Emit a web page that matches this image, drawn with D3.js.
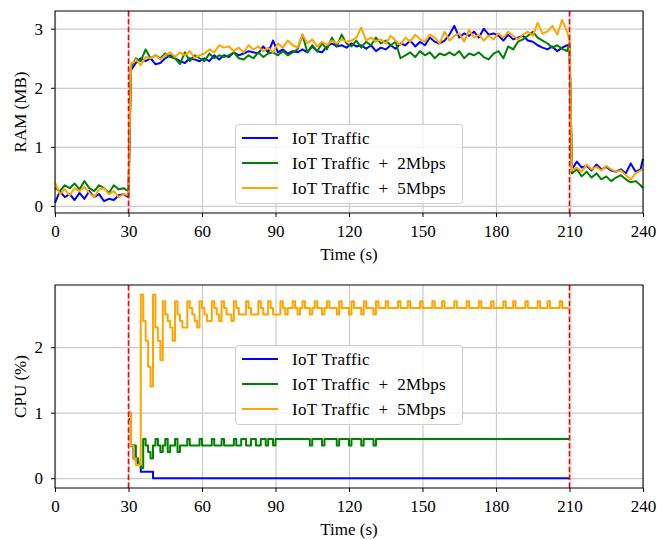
<!DOCTYPE html>
<html>
<head>
<meta charset="utf-8">
<script src="https://cdn.jsdelivr.net/npm/d3@7"></script>
<style>
  body { margin: 0; background: #fff; }
  svg text { font-family: "Liberation Serif", "DejaVu Serif", serif; fill: #000; }
</style>
</head>
<body>
<div id="chart"></div>
<script>
// ---- data ----
const xTicks = [0, 30, 60, 90, 120, 150, 180, 210, 240];
const ramTicks = [0, 1, 2, 3];
const cpuTicks = [0, 1, 2];
const markerTimes = [30, 210];
const seriesNames = ["IoT Traffic", "IoT Traffic\u2002+\u20022Mbps", "IoT Traffic\u2002+\u20025Mbps"];
const seriesColors = ["#0000ff", "#008000", "#ffa500"];

// RAM sample times (s)
const ramTime = [].concat(d3.range(0, 31, 2), d3.range(31, 210, 2), [210], d3.range(211, 240, 2), [240]);

// RAM (MB)
const ramBlue = [
  0.05, 0.25, 0.15, 0.2, 0.1, 0.22, 0.12, 0.25, 0.15, 0.2, 0.08, 0.12, 0.1, 0.18, 0.2, 0.15,
  2.3, 2.42, 2.5, 2.45, 2.5,   2.4, 2.42, 2.5, 2.55, 2.5,
  2.45, 2.42, 2.5, 2.48, 2.45, 2.5, 2.45, 2.55, 2.48, 2.55,
  2.52, 2.6, 2.55, 2.58, 2.62, 2.6, 2.58, 2.7, 2.6, 2.8,
  2.6, 2.65, 2.58, 2.62, 2.6,  2.65, 2.6, 2.7, 2.62, 2.6,
  2.7, 2.75, 2.7, 2.72, 2.68,  2.75, 2.7, 2.72, 2.66, 2.72,
  2.62, 2.68, 2.65, 2.72, 2.66, 2.75, 2.72, 2.8, 2.7, 2.78,
  2.72, 2.85, 2.78, 2.75, 2.8, 2.9, 3.05, 2.85, 2.92, 2.88,
  2.95, 2.85, 3.0, 2.9, 2.92,  2.88, 2.8, 2.9, 2.82, 2.85,
  2.88, 2.8, 2.78, 2.72, 2.68, 2.65, 2.7, 2.62, 2.68, 2.72,
  2.7,
  0.62, 0.75, 0.65, 0.68, 0.6, 0.7, 0.62, 0.66, 0.6, 0.58, 0.62, 0.55, 0.72, 0.58, 0.62, 0.8
];
const ramGreen = [
  0.3, 0.25, 0.35, 0.3, 0.38, 0.28, 0.42, 0.3, 0.25, 0.35, 0.3, 0.22, 0.35, 0.28, 0.3, 0.25,
  2.35, 2.5, 2.45, 2.65, 2.5,  2.55, 2.5, 2.58, 2.52, 2.5,
  2.4, 2.6, 2.45, 2.55, 2.5,   2.45, 2.58, 2.5, 2.55, 2.52,
  2.55, 2.6, 2.5, 2.48, 2.55,  2.5, 2.6, 2.52, 2.58, 2.6,
  2.55, 2.62, 2.55, 2.6, 2.65, 2.9, 2.6, 2.72, 2.62, 2.75,
  2.65, 2.85, 2.7, 2.9, 2.75,  2.7, 2.8, 2.68, 2.78, 2.72,
  2.85, 2.75, 2.8, 2.72, 2.78, 2.5, 2.55, 2.6, 2.52, 2.62,
  2.55, 2.6, 2.5, 2.58, 2.55,  2.6, 2.55, 2.62, 2.5, 2.58,
  2.55, 2.6, 2.52, 2.48, 2.58, 2.62, 2.5, 2.7, 2.65, 2.78,
  2.82, 2.88, 2.95, 2.85, 2.8, 2.75, 2.68, 2.72, 2.66, 2.62,
  2.75,
  0.55, 0.62, 0.5, 0.58, 0.48, 0.55, 0.45, 0.5, 0.42, 0.48, 0.52, 0.45, 0.4, 0.42, 0.35, 0.3
];
const ramOrange = [
  0.4, 0.2, 0.28, 0.18, 0.3, 0.25, 0.32, 0.22, 0.15, 0.28, 0.3, 0.2, 0.25, 0.15, 0.2, 0.18,
  2.4, 2.48, 2.38, 2.52, 2.5,  2.55, 2.48, 2.55, 2.6, 2.52,
  2.6, 2.55, 2.62, 2.5, 2.55,  2.58, 2.65, 2.6, 2.72, 2.68,
  2.7, 2.62, 2.68, 2.6, 2.72,  2.65, 2.7, 2.62, 2.68, 2.6,
  2.75, 2.68, 2.8, 2.72, 2.68, 2.9, 2.75, 2.82, 2.7, 2.78,
  2.72, 2.8, 2.75, 2.82, 2.78, 2.8, 2.85, 3.02, 2.8, 2.85,
  2.78, 2.82, 2.75, 2.88, 2.8, 2.72, 2.85, 2.78, 2.9, 2.82,
  2.78, 2.9, 2.85, 2.75, 2.95, 2.8, 2.88, 2.92, 2.78, 2.98,
  2.85, 2.9, 2.8, 2.88, 2.82,  2.92, 2.85, 2.95, 2.88, 2.82,
  2.9, 2.95, 2.88, 3.1, 2.92,  2.95, 3.05, 2.9, 3.15, 2.95,
  2.8,
  0.6, 0.65, 0.58, 0.7, 0.62, 0.66, 0.6, 0.68, 0.62, 0.58, 0.6, 0.52, 0.45, 0.55, 0.6, 0.62
];

// CPU sample times (s), one per second from 30 to 210
const cpuTime = d3.range(30, 211);

// CPU (%)
const cpuBlue = [
  1.0, 0.5, 0.3, 0.25, 0.2, 0.1, 0.1, 0.1, 0.1, 0.1,
  0, 0, 0, 0, 0, 0, 0, 0, 0, 0,
  0, 0, 0, 0, 0, 0, 0, 0, 0, 0,
  0, 0, 0, 0, 0, 0, 0, 0, 0, 0,
  0, 0, 0, 0, 0, 0, 0, 0, 0, 0,
  0, 0, 0, 0, 0, 0, 0, 0, 0, 0,
  0, 0, 0, 0, 0, 0, 0, 0, 0, 0,
  0, 0, 0, 0, 0, 0, 0, 0, 0, 0,
  0, 0, 0, 0, 0, 0, 0, 0, 0, 0,
  0, 0, 0, 0, 0, 0, 0, 0, 0, 0,
  0, 0, 0, 0, 0, 0, 0, 0, 0, 0,
  0, 0, 0, 0, 0, 0, 0, 0, 0, 0,
  0, 0, 0, 0, 0, 0, 0, 0, 0, 0,
  0, 0, 0, 0, 0, 0, 0, 0, 0, 0,
  0, 0, 0, 0, 0, 0, 0, 0, 0, 0,
  0, 0, 0, 0, 0, 0, 0, 0, 0, 0,
  0, 0, 0, 0, 0, 0, 0, 0, 0, 0,
  0, 0, 0, 0, 0, 0, 0, 0, 0, 0,
  0
];
const cpuGreen = [
  0.9, 0.5, 0.5, 0.3, 0.2, 0.15, 0.6, 0.5, 0.4, 0.3,
  0.5, 0.6, 0.5, 0.4, 0.5, 0.6, 0.4, 0.5, 0.5, 0.6,
  0.4, 0.5, 0.5, 0.5, 0.6, 0.5, 0.5, 0.5, 0.5, 0.6,
  0.5, 0.5, 0.5, 0.5, 0.6, 0.5, 0.5, 0.5, 0.6, 0.5,
  0.5, 0.5, 0.5, 0.6, 0.5, 0.5, 0.6, 0.6, 0.5, 0.5,
  0.6, 0.6, 0.5, 0.5, 0.6, 0.6, 0.5, 0.6, 0.6, 0.5,
  0.6, 0.6, 0.6, 0.6, 0.6, 0.6, 0.6, 0.6, 0.6, 0.6,
  0.6, 0.6, 0.6, 0.6, 0.5, 0.6, 0.6, 0.6, 0.6, 0.5,
  0.6, 0.6, 0.6, 0.6, 0.6, 0.5, 0.6, 0.6, 0.6, 0.6,
  0.5, 0.6, 0.6, 0.6, 0.6, 0.5, 0.6, 0.6, 0.6, 0.6,
  0.5, 0.6, 0.6, 0.6, 0.6, 0.6, 0.6, 0.6, 0.6, 0.6,
  0.6, 0.6, 0.6, 0.6, 0.6, 0.6, 0.6, 0.6, 0.6, 0.6,
  0.6, 0.6, 0.6, 0.6, 0.6, 0.6, 0.6, 0.6, 0.6, 0.6,
  0.6, 0.6, 0.6, 0.6, 0.6, 0.6, 0.6, 0.6, 0.6, 0.6,
  0.6, 0.6, 0.6, 0.6, 0.6, 0.6, 0.6, 0.6, 0.6, 0.6,
  0.6, 0.6, 0.6, 0.6, 0.6, 0.6, 0.6, 0.6, 0.6, 0.6,
  0.6, 0.6, 0.6, 0.6, 0.6, 0.6, 0.6, 0.6, 0.6, 0.6,
  0.6, 0.6, 0.6, 0.6, 0.6, 0.6, 0.6, 0.6, 0.6, 0.6,
  0.6
];
const cpuOrange = [
  1.0, 0.5, 0.3, 0.2, 0.2, 2.8, 2.4, 2.1, 1.7, 1.4,
  2.8, 2.3, 2.1, 1.8, 2.7, 2.5, 2.4, 2.3, 2.1, 2.7,
  2.5, 2.4, 2.3, 2.3, 2.7, 2.6, 2.5, 2.4, 2.3, 2.7,
  2.6, 2.5, 2.4, 2.4, 2.7, 2.6, 2.5, 2.4, 2.7, 2.6,
  2.5, 2.5, 2.4, 2.7, 2.6, 2.5, 2.5, 2.5, 2.7, 2.6,
  2.5, 2.5, 2.5, 2.7, 2.6, 2.5, 2.5, 2.7, 2.6, 2.5,
  2.5, 2.5, 2.7, 2.6, 2.5, 2.6, 2.6, 2.7, 2.6, 2.5,
  2.6, 2.7, 2.6, 2.6, 2.5, 2.6, 2.7, 2.6, 2.6, 2.5,
  2.6, 2.7, 2.6, 2.6, 2.6, 2.5, 2.7, 2.6, 2.6, 2.6,
  2.5, 2.7, 2.6, 2.6, 2.6, 2.5, 2.7, 2.6, 2.6, 2.6,
  2.5, 2.7, 2.6, 2.6, 2.6, 2.7, 2.6, 2.6, 2.6, 2.6,
  2.7, 2.6, 2.6, 2.6, 2.7, 2.6, 2.6, 2.6, 2.6, 2.7,
  2.6, 2.6, 2.6, 2.6, 2.7, 2.6, 2.6, 2.6, 2.7, 2.6,
  2.6, 2.6, 2.6, 2.7, 2.6, 2.6, 2.6, 2.6, 2.7, 2.6,
  2.6, 2.6, 2.6, 2.7, 2.6, 2.6, 2.6, 2.6, 2.7, 2.6,
  2.6, 2.6, 2.6, 2.7, 2.6, 2.6, 2.6, 2.7, 2.6, 2.6,
  2.6, 2.6, 2.7, 2.6, 2.6, 2.6, 2.6, 2.7, 2.6, 2.6,
  2.6, 2.7, 2.6, 2.6, 2.6, 2.6, 2.7, 2.6, 2.6, 2.6,
  2.6
];

// ---- drawing ----
function drawPanel(svg, p) {
  const left = 55, right = 643;

  const x = d3.scaleLinear().domain([0, 240]).range([left, right]);
  const y = d3.scaleLinear().domain(p.yDomain).range([p.bottom, p.top]);

  const g = svg.append("g");

  // grid
  g.append("g")
      .attr("transform", `translate(0,${p.bottom})`)
      .call(d3.axisBottom(x).tickValues(xTicks).tickSize(-(p.bottom - p.top)).tickFormat(""))
      .call(a => a.select(".domain").remove())
      .call(a => a.selectAll("line").attr("stroke", "#cbcbcb").attr("stroke-width", 1.2));
  g.append("g")
      .attr("transform", `translate(${left},0)`)
      .call(d3.axisLeft(y).tickValues(p.yTicks).tickSize(-(right - left)).tickFormat(""))
      .call(a => a.select(".domain").remove())
      .call(a => a.selectAll("line").attr("stroke", "#cbcbcb").attr("stroke-width", 1.2));

  // data lines
  const line = d3.line()
      .x((d, i) => x(p.time[i]))
      .y(d => y(d))
      .curve(p.curve);

  p.series.forEach((s, i) => {
    g.append("path")
        .datum(s)
        .attr("fill", "none")
        .attr("stroke", seriesColors[i])
        .attr("stroke-width", 2)
        .attr("stroke-linejoin", "round")
        .attr("d", line);
  });

  // event markers
  g.selectAll(".marker")
    .data(markerTimes)
    .enter().append("line")
      .attr("x1", d => x(d)).attr("x2", d => x(d))
      .attr("y1", p.top).attr("y2", p.bottom)
      .attr("stroke", "#ff0000")
      .attr("stroke-width", 1.6)
      .attr("stroke-dasharray", "5.5,2.4");

  // frame
  g.append("rect")
      .attr("x", left).attr("y", p.top)
      .attr("width", right - left).attr("height", p.bottom - p.top)
      .attr("fill", "none").attr("stroke", "#000").attr("stroke-width", 1);

  // axes
  const xAxis = g.append("g")
      .attr("transform", `translate(0,${p.bottom})`)
      .call(d3.axisBottom(x).tickValues(xTicks).tickSize(4).tickPadding(8).tickSizeOuter(0));
  const yAxis = g.append("g")
      .attr("transform", `translate(${left},0)`)
      .call(d3.axisLeft(y).tickValues(p.yTicks).tickFormat(d3.format("d")).tickSize(4).tickPadding(8).tickSizeOuter(0));
  [xAxis, yAxis].forEach(a => {
    a.select(".domain").remove();
    a.selectAll("text").attr("font-size", 17).attr("font-family", null);
  });

  // axis labels
  g.append("text")
      .attr("x", (left + right) / 2).attr("y", p.bottom + 47)
      .attr("text-anchor", "middle").attr("font-size", 17)
      .text("Time (s)");
  g.append("text")
      .attr("transform", `translate(26,${(p.top + p.bottom) / 2}) rotate(-90)`)
      .attr("text-anchor", "middle").attr("font-size", 17)
      .text(p.yLabel);

  // legend
  const lg = g.append("g").attr("transform", `translate(235,${p.legendTop})`);
  lg.append("rect")
      .attr("x", 0.5).attr("y", 0.5).attr("width", 227).attr("height", 79).attr("rx", 3)
      .attr("fill", "#fff").attr("fill-opacity", 0.8)
      .attr("stroke", "#cccccc").attr("stroke-width", 1);
  seriesNames.forEach((name, i) => {
    const ry = 14 + i * 25;
    lg.append("line")
        .attr("x1", 7).attr("x2", 43).attr("y1", ry).attr("y2", ry)
        .attr("stroke", seriesColors[i]).attr("stroke-width", 2);
    lg.append("text")
        .attr("x", 57).attr("y", ry + 6)
        .attr("font-size", 17)
        .attr("letter-spacing", 0.3)
        .text(name);
  });
}

function drawChart() {
  const svg = d3.select("#chart").append("svg")
      .attr("width", 657)
      .attr("height", 540);

  drawPanel(svg, {
    top: 11, bottom: 213, yDomain: [-0.12, 3.3], yTicks: ramTicks, yLabel: "RAM (MB)",
    time: ramTime, series: [ramBlue, ramGreen, ramOrange], curve: d3.curveLinear, legendTop: 124
  });
  drawPanel(svg, {
    top: 285, bottom: 488, yDomain: [-0.15, 2.95], yTicks: cpuTicks, yLabel: "CPU (%)",
    time: cpuTime, series: [cpuBlue, cpuGreen, cpuOrange], curve: d3.curveStepAfter, legendTop: 345
  });
}

drawChart();
</script>
</body>
</html>
